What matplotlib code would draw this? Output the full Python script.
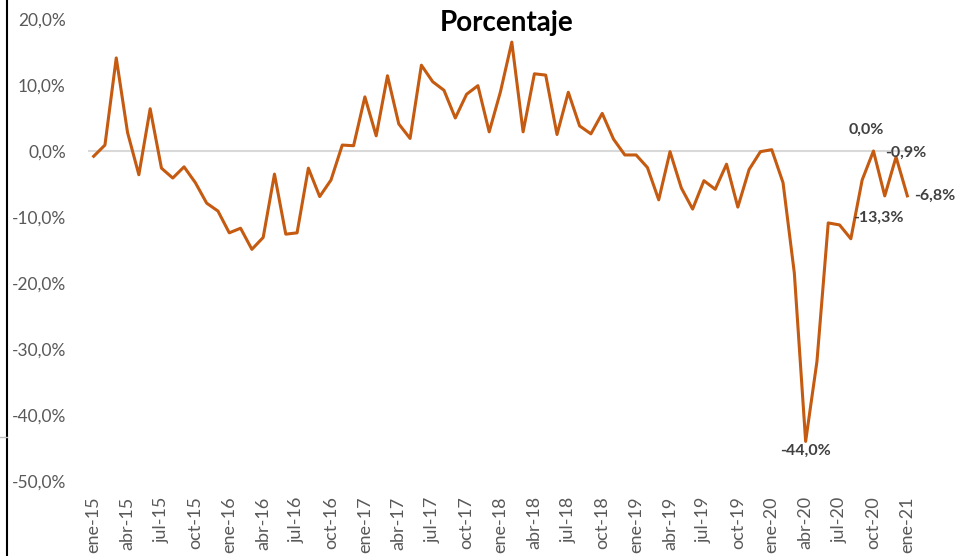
import matplotlib
matplotlib.use('Agg')
import matplotlib.pyplot as plt
from matplotlib.lines import Line2D

months = ['ene', 'feb', 'mar', 'abr', 'may', 'jun',
          'jul', 'ago', 'sep', 'oct', 'nov', 'dic']
years = ['15', '16', '17', '18', '19', '20', '21']
labels = [m + '-' + y for y in years for m in months][:73]

# variacion interanual (%)
values = [
    -0.8, 0.9, 14.1, 2.8, -3.6, 6.4, -2.6, -4.1, -2.4, -4.8, -7.9, -9.1,
    -12.4, -11.7, -14.9, -13.1, -3.5, -12.6, -12.4, -2.6, -6.9, -4.4, 0.9, 0.8,
    8.2, 2.3, 11.4, 4.1, 1.9, 13.0, 10.5, 9.2, 5.0, 8.6, 9.9, 2.9,
    9.0, 16.5, 2.9, 11.7, 11.5, 2.5, 8.9, 3.8, 2.6, 5.7, 1.8, -0.6,
    -0.6, -2.5, -7.4, -0.1, -5.6, -8.8, -4.5, -5.8, -2.0, -8.5, -2.8, -0.1,
    0.2, -4.8, -18.5, -44.0, -31.9, -10.9, -11.2, -13.3, -4.4, 0.0, -6.8, -0.9,
    -6.8,
]

# puntos con etiqueta: indice -> (dx, dy, ha, va)
annotated = {
    63: (0, -2, 'center', 'top'),
    67: (2, 15, 'left', 'center'),
    69: (-5, 10, 'center', 'bottom'),
    71: (-8, 3, 'left', 'center'),
    72: (5, 0, 'left', 'center'),
}

plt.rcParams['font.family'] = ['Lato', 'DejaVu Sans']

fig = plt.figure(figsize=(9.57, 5.56), dpi=100)
ax = fig.add_axes([88 / 957, 1 - 481 / 556, (913 - 88) / 957, (481 - 19) / 556])

x = list(range(len(values)))
ax.axhline(0, color='#d9d9d9', lw=1.5, zorder=1)
ax.plot(x, values, color='#c55a11', lw=2.2, zorder=3)

for i, (dx, dy, ha, va) in annotated.items():
    txt = ('%.1f%%' % values[i]).replace('.', ',')
    ax.annotate(txt, (i, values[i]), xytext=(dx, dy), textcoords='offset points',
                ha=ha, va=va, fontsize=11.5, fontweight='bold', color='#404040', zorder=4)

ax.set_xlim(-0.5, len(values) - 0.5)
ax.set_ylim(-50, 20)
ax.set_yticks(range(-50, 21, 10))
ax.set_yticklabels([('%.1f%%' % v).replace('.', ',') for v in range(-50, 21, 10)])
ax.set_xticks(x[::3])
ax.set_xticklabels(labels[::3], rotation=90, va='top')

ax.tick_params(axis='y', length=0, labelsize=12.5, labelcolor='#595959', pad=16)
ax.tick_params(axis='x', length=0, labelsize=13, labelcolor='#595959', pad=11)
for s in ax.spines.values():
    s.set_visible(False)

fig.text(507 / 957, 1 - 23 / 556, 'Porcentaje', ha='center', va='center',
         fontsize=20, fontweight='bold', color='black')

# borde izquierdo del grafico
fig.add_artist(Line2D([7 / 957, 7 / 957], [0, 1], color='black', lw=1.5,
                      transform=fig.transFigure))
fig.add_artist(Line2D([0, 7 / 957], [1 - 437 / 556, 1 - 437 / 556], color='#bfbfbf',
                      lw=1, transform=fig.transFigure))

fig.savefig('out.png', dpi=100)
